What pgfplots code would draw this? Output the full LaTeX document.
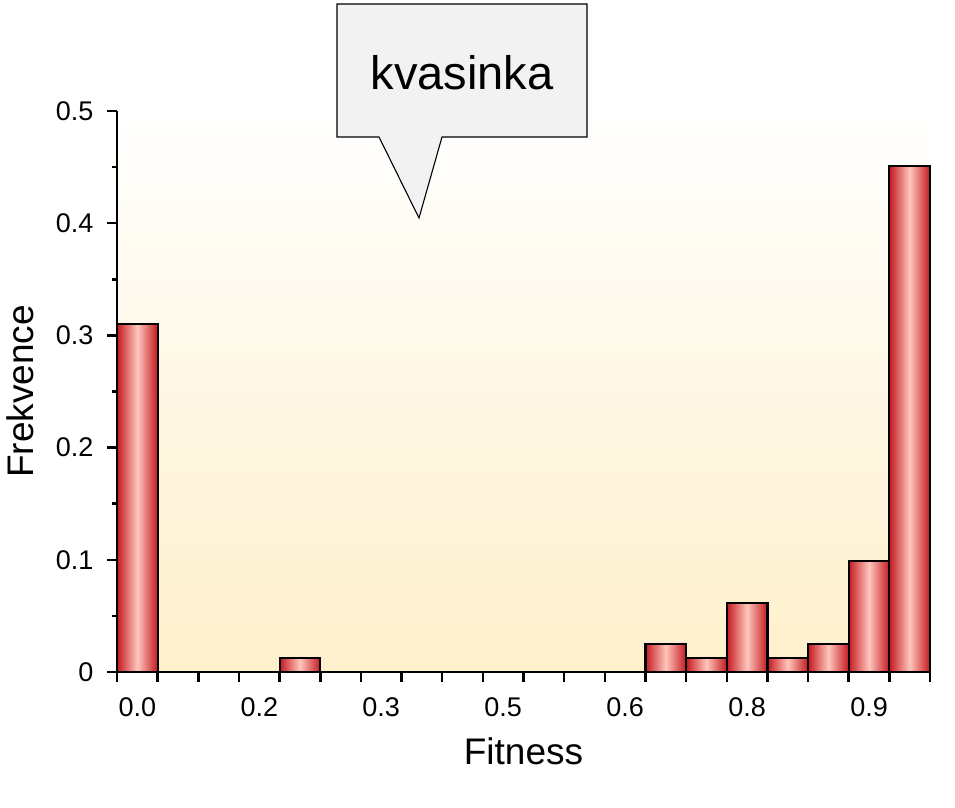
\documentclass[border=0pt]{standalone}
\usepackage{fontspec}
\setmainfont{Liberation Sans}
\usepackage{pgfplots}
\pgfplotsset{compat=1.18}

\definecolor{bgyellow}{RGB}{255,240,204}
\definecolor{bardark}{RGB}{196,26,32}
\definecolor{barlight}{RGB}{255,198,188}
\definecolor{boxgray}{RGB}{242,242,242}

% one cylinder-shaded bar per \addplot, so that every bar gets its own shading
\pgfplotsset{cyl/.style={ybar, bar width=0.05, bar shift=0pt, draw=black, line width=2.2pt,
    left color=bardark, right color=bardark, middle color=barlight}}

\begin{document}
\begin{tikzpicture}
% 1px = 1pt, origin at lower left corner of the plot area
\useasboundingbox (-117pt,-135pt) rectangle (838pt,672pt);
\begin{axis}[
    scale only axis,
    width=813pt, height=561pt,
    xmin=0, xmax=1,
    ymin=0, ymax=0.5,
    clip=false,
    axis x line*=bottom,
    axis y line*=left,
    axis line style={line width=2.8pt},
    axis background/.style={shade, top color=white, bottom color=bgyellow},
    tick align=outside,
    tick style={black, line width=2.5pt},
    major tick length=9.5pt,
    minor tick length=5pt,
    tick label style={font=\fontsize{27}{32}\selectfont},
    xtick={0,0.05,0.1,0.15,0.2,0.25,0.3,0.35,0.4,0.45,0.5,0.55,0.6,0.65,0.7,0.75,0.8,0.85,0.9,0.95,1},
    xticklabels={},
    extra x ticks={0.025,0.175,0.325,0.475,0.625,0.775,0.925},
    extra x tick labels={0.0,0.2,0.3,0.5,0.6,0.8,0.9},
    extra x tick style={major tick length=0pt,
        xticklabel style={anchor=north, inner sep=0pt, yshift=-25pt}},
    ytick={0,0.1,0.2,0.3,0.4,0.5},
    yticklabels={0,0.1,0.2,0.3,0.4,0.5},
    minor ytick={0.05,0.15,0.25,0.35,0.45},
    yticklabel style={anchor=east, inner sep=0pt, xshift=-14pt},
    xlabel={Fitness},
    ylabel={Frekvence},
    every axis x label/.style={at={(axis description cs:0.5,-0.164)}, anchor=base,
        font=\fontsize{37}{44}\selectfont},
    every axis y label/.style={at={(axis description cs:-0.1033,0.5)}, anchor=base,
        rotate=90, font=\fontsize{37}{44}\selectfont},
]
\addplot[cyl] coordinates {(0.025,0.310)};
\addplot[cyl] coordinates {(0.225,0.0123)};
\addplot[cyl] coordinates {(0.675,0.0247)};
\addplot[cyl] coordinates {(0.725,0.0123)};
\addplot[cyl] coordinates {(0.775,0.0617)};
\addplot[cyl] coordinates {(0.825,0.0123)};
\addplot[cyl] coordinates {(0.875,0.0247)};
\addplot[cyl] coordinates {(0.925,0.0988)};
\addplot[cyl] coordinates {(0.975,0.451)};
\end{axis}
% callout
\draw[fill=boxgray, line width=1.1pt]
    (220pt,668pt) -- (470pt,668pt) -- (470pt,535pt) -- (325pt,535pt)
    -- (302pt,454pt) -- (262pt,535pt) -- (220pt,535pt) -- cycle;
\node[anchor=base, inner sep=0pt, font=\fontsize{47}{56}\selectfont] at (345pt,582pt) {kvasinka};
\end{tikzpicture}
\end{document}
